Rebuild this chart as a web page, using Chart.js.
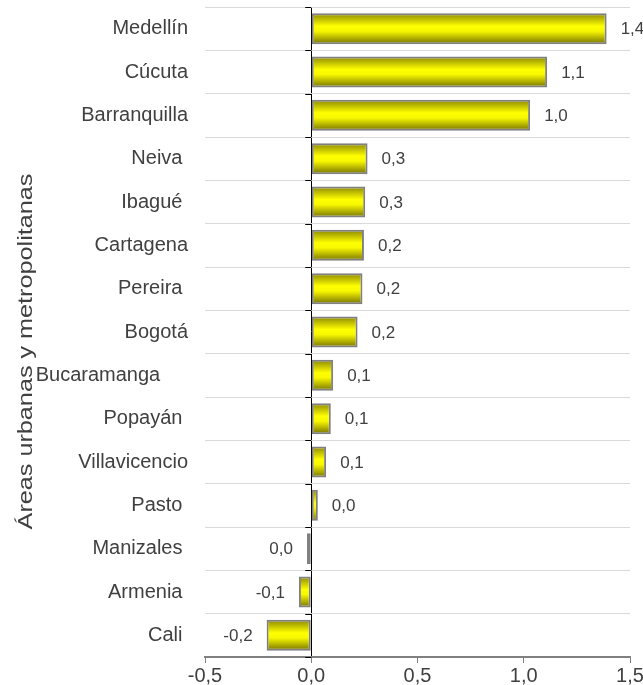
<!DOCTYPE html>
<html lang="es">
<head>
<meta charset="utf-8">
<title>Áreas urbanas y metropolitanas</title>
<script src="https://cdn.jsdelivr.net/npm/chart.js@4.4.1/dist/chart.umd.min.js"></script>
<style>
  html, body { margin: 0; padding: 0; background: #fff; }
  #caja { width: 643px; height: 685px; }
</style>
</head>
<body>
<div id="caja"><canvas id="myChart" width="643" height="685"></canvas></div>
<script>
// ciudades (algunas etiquetas llevan espacios al final, como en la hoja original)
const ciudades = [
  "Medellín", "Cúcuta", "Barranquilla", "Neiva ", "Ibagué ", "Cartagena",
  "Pereira ", "Bogotá", "Bucaramanga     ", "Popayán ", "Villavicencio",
  "Pasto ", "Manizales ", "Armenia ", "Cali "
];
const variacion = [
  1.39, 1.11, 1.03, 0.265, 0.254, 0.248,
  0.241, 0.218, 0.103, 0.092, 0.070,
  0.031, -0.020, -0.058, -0.21
];
const ejeX = [-0.5, 0.0, 0.5, 1.0, 1.5];
const tituloEje = "Áreas urbanas y metropolitanas";

const GRIS_TEXTO = "#404040";
const FUENTE = "'Liberation Sans', Arial, sans-serif";
const ANCHO_BARRA = 0.715;

function coma(v) {
  let s = v.toFixed(1);
  if (s === "-0.0") s = "0.0";
  return s.replace(".", ",");
}

// degradado tipo cilindro para cada barra
function rellenoBarra(ctx) {
  const chart = ctx.chart;
  const y = chart.scales.y;
  if (!y || ctx.type !== "data") return "#ffff00";
  const centro = y.getPixelForValue(ctx.dataIndex);
  const alto = (y.height / ciudades.length) * ANCHO_BARRA;
  if (!isFinite(centro) || !isFinite(alto) || alto <= 0) return "#ffff00";
  const g = chart.ctx.createLinearGradient(0, centro - alto / 2, 0, centro + alto / 2);
  g.addColorStop(0, "#8a8600");
  g.addColorStop(0.42, "#ffff00");
  g.addColorStop(0.58, "#f8f800");
  g.addColorStop(1, "#747000");
  return g;
}

// etiquetas de valor, marcas sobre el eje del cero y título vertical
const extras = {
  id: "extras",
  afterDatasetsDraw(chart) {
    const ctx = chart.ctx;
    const x = chart.scales.x;
    const y = chart.scales.y;
    const x0 = x.getPixelForValue(0);

    ctx.save();
    ctx.strokeStyle = "#000";
    ctx.lineWidth = 1;
    const paso = y.height / ciudades.length;
    for (let i = 0; i <= ciudades.length; i++) {
      const py = Math.round(y.top + i * paso) + 0.5;
      ctx.beginPath();
      ctx.moveTo(x0 - 6, py);
      ctx.lineTo(x0, py);
      ctx.stroke();
    }

    ctx.font = "17px " + FUENTE;
    ctx.fillStyle = GRIS_TEXTO;
    ctx.textBaseline = "middle";
    const meta = chart.getDatasetMeta(0);
    meta.data.forEach((bar, i) => {
      const v = variacion[i];
      if (v >= 0) {
        ctx.textAlign = "left";
        ctx.fillText(coma(v), bar.x + 14, bar.y + 1);
      } else {
        ctx.textAlign = "right";
        ctx.fillText(coma(v), bar.x - 14, bar.y + 1);
      }
    });

    // título del eje, algo estirado a lo largo
    ctx.translate(y.left + 26, y.top + y.height * 0.53);
    ctx.rotate(-Math.PI / 2);
    ctx.scale(1.26, 1);
    ctx.font = "20px " + FUENTE;
    ctx.textAlign = "center";
    ctx.fillText(tituloEje, 0, 0);
    ctx.restore();
  }
};

const ctx = document.getElementById("myChart").getContext("2d");

const grafico = new Chart(ctx, {
  type: "bar",
  data: {
    labels: ciudades,
    datasets: [{
      data: variacion,
      backgroundColor: rellenoBarra,
      borderColor: "#808080",
      borderWidth: 2,
      borderSkipped: false,
      barPercentage: ANCHO_BARRA,
      categoryPercentage: 1
    }]
  },
  options: {
    indexAxis: "y",
    responsive: false,
    animation: false,
    layout: { padding: { top: 7, right: 13, left: 0, bottom: 0 } },
    plugins: {
      legend: { display: false },
      tooltip: { enabled: false }
    },
    scales: {
      x: {
        type: "linear",
        min: ejeX[0],
        max: ejeX[ejeX.length - 1],
        afterBuildTicks: (s) => { s.ticks = ejeX.map((v) => ({ value: v })); },
        afterFit: (s) => {
          s.height = 28;
          s.paddingLeft = 0;
          s.paddingRight = 0;
        },
        grid: {
          color: (c) => (c.tick && c.tick.value === 0 ? "#000000" : "rgba(0,0,0,0)"),
          tickColor: "#808080",
          tickLength: 6,
          lineWidth: 1
        },
        border: { color: "#808080", width: 2 },
        ticks: {
          padding: 1,
          color: GRIS_TEXTO,
          font: { family: FUENTE, size: 20 },
          maxRotation: 0,
          callback: (v) => coma(v)
        }
      },
      y: {
        afterFit: (s) => {
          s.width = 205;
          s.paddingTop = 0;
          s.paddingBottom = 0;
        },
        grid: {
          offset: true,
          color: "#d9d9d9",
          lineWidth: 1,
          drawTicks: false
        },
        border: { display: false },
        ticks: {
          padding: 17,
          color: GRIS_TEXTO,
          font: { family: FUENTE, size: 20 }
        }
      }
    }
  },
  plugins: [extras]
});
// segunda pasada para que el degradado use la escala ya medida
grafico.update("none");
</script>
</body>
</html>
